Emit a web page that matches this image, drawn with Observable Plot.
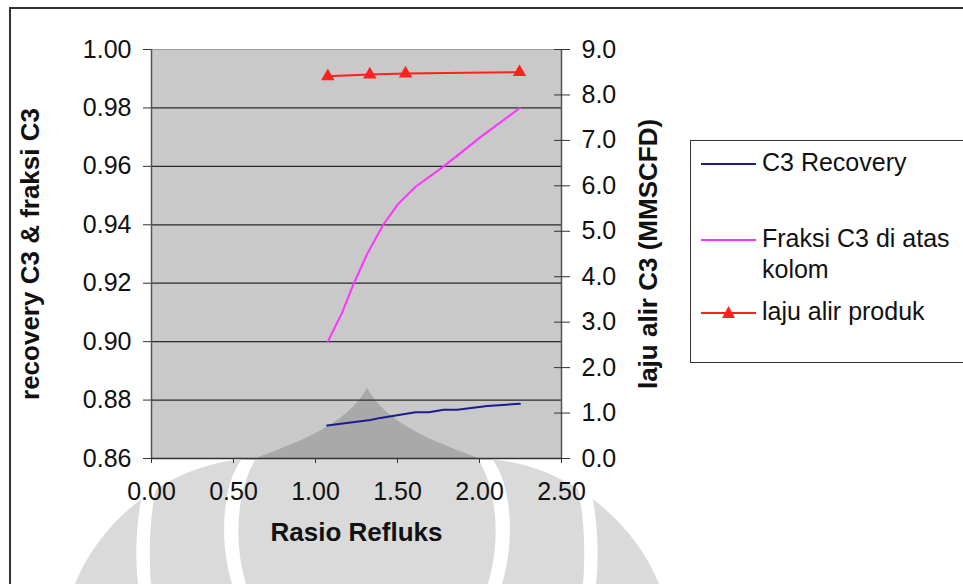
<!DOCTYPE html>
<html><head><meta charset="utf-8">
<script src="https://cdn.jsdelivr.net/npm/d3@7"></script>
<script src="https://cdn.jsdelivr.net/npm/@observablehq/plot@0.6"></script>
<style>
body{margin:0;background:#fff;}
#wrap{position:relative;width:963px;height:584px;overflow:hidden;font-family:Arial,"Liberation Sans",sans-serif;background:#fff;}
#frame{position:absolute;left:9px;top:7px;width:1000px;height:700px;border-left:2px solid #333;border-top:2px solid #333;pointer-events:none;}
#chart{position:absolute;left:0;top:0;}
#legend{position:absolute;left:690px;top:140px;width:400px;height:221px;border:1.5px solid #333;background:#fff;font-size:25px;color:#111;}
.item{position:absolute;left:10px;display:flex;align-items:flex-start;}
.item svg{flex:none;margin-top:7px;margin-right:6px;}
.item span{line-height:31px;}
</style>
</head><body>
<div id="wrap">
  <div id="chart"></div>
  <div id="frame"></div>
  <div id="legend"></div>
</div>
<script>
// ---- data ----
const rasioFraksi   = [1.075, 1.163, 1.234, 1.315, 1.413, 1.502, 1.610, 1.782, 2.006, 2.246];
const fraksiC3      = [0.900, 0.910, 0.920, 0.930, 0.940, 0.947, 0.953, 0.960, 0.970, 0.980];
const rasioRecovery = [1.071, 1.335, 1.396, 1.610, 1.691, 1.782, 1.864, 2.047, 2.246];
const recoveryC3    = [0.8713, 0.8732, 0.8739, 0.8758, 0.8758, 0.8767, 0.8767, 0.8780, 0.8787];
const rasioProduk   = [1.075, 1.331, 1.549, 2.244];
const lajuAlir      = [8.41, 8.45, 8.47, 8.50];
const xTicks     = [0, 0.5, 1.0, 1.5, 2.0, 2.5];
const leftTicks  = [0.86, 0.88, 0.90, 0.92, 0.94, 0.96, 0.98, 1.00];
const gridTicks  = [0.88, 0.90, 0.92, 0.94, 0.96, 0.98];
const rightTicks = [0, 1, 2, 3, 4, 5, 6, 7, 8, 9];
const seriesNames = ["C3 Recovery", "Fraksi C3 di atas kolom", "laju alir produk"];
const seriesColors = ["#1c1c8e", "#ff33ff", "#ff2020"];

// right axis (0..9) mapped onto left axis domain (0.86..1.00)
const L0 = 0.86, L1 = 1.00, R0 = 0, R1 = 9;
const toL = v => L0 + (v - R0) * (L1 - L0) / (R1 - R0);
const toR = y => R0 + (y - L0) * (R1 - R0) / (L1 - L0);

const fraksi = rasioFraksi.map((x, i) => ({x, y: fraksiC3[i]}));
const recov = rasioRecovery.map((x, i) => ({x, y: recoveryC3[i]}));
const produk = rasioProduk.map((x, i) => ({x, y: toL(lajuAlir[i])}));

const font = "Arial, 'Liberation Sans', sans-serif";
const chart = Plot.plot({
  width: 963, height: 584,
  marginLeft: 151, marginRight: 402, marginTop: 49, marginBottom: 126,
  style: {fontFamily: font, fontSize: "25px", background: "transparent", color: "#111"},
  x: {domain: [0, 2.5]},
  y: {domain: [L0, L1]},
  marks: [
    Plot.frame({fill: "#c9c9c9", stroke: "#9a9a9a"}),
    Plot.ruleY(gridTicks, {stroke: "#2a2a2a", strokeWidth: 1.3}),
    Plot.ruleX([0], {stroke: "#555", strokeWidth: 1.5}),
    Plot.ruleX([2.5], {stroke: "#555", strokeWidth: 1.5}),
    Plot.ruleY([L0], {stroke: "#333", strokeWidth: 1.5}),
    Plot.axisY(leftTicks, {anchor: "left", tickSize: 8, tickPadding: 12, tickFormat: d => d.toFixed(2), label: null, fontSize: 25, stroke: "#333"}),
    Plot.axisY(rightTicks.map(toL), {anchor: "right", tickSize: 16, dx: -8, tickFormat: () => "", label: null, stroke: "#333"}),
    Plot.axisY(rightTicks.map(toL), {anchor: "right", tickSize: 0, tickPadding: 20, tickFormat: d => toR(d).toFixed(1), label: null, fontSize: 25}),
    Plot.axisX(xTicks, {anchor: "bottom", tickSize: 5, tickPadding: 19, tickFormat: d => d.toFixed(2), label: null, fontSize: 25, stroke: "#333"}),
    Plot.line(recov, {x: "x", y: "y", stroke: seriesColors[0], strokeWidth: 2}),
    Plot.line(fraksi, {x: "x", y: "y", stroke: seriesColors[1], strokeWidth: 2}),
    Plot.line(produk, {x: "x", y: "y", stroke: seriesColors[2], strokeWidth: 2}),
    Plot.dot(produk, {x: "x", y: "y", symbol: "triangle", r: 5, fill: seriesColors[2], stroke: null}),
    Plot.text(["Rasio Refluks"], {frameAnchor: "bottom", dy: 82, fontWeight: "bold", fontSize: 26, fill: "#111"}),
    Plot.text(["recovery C3 & fraksi C3"], {frameAnchor: "left", textAnchor: "middle", dx: -121, rotate: -90, fontWeight: "bold", fontSize: 26, fill: "#111"}),
    Plot.text(["laju alir C3 (MMSCFD)"], {frameAnchor: "right", textAnchor: "middle", dx: 87, rotate: -90, fontWeight: "bold", fontSize: 26, fill: "#111"})
  ]
});
document.getElementById("chart").appendChild(chart);

// faint background watermark (decoration, not data), placed just above the plot-area fill
(function () {
  const ns = "http://www.w3.org/2000/svg";
  const frameG = chart.querySelector('[aria-label="frame"]');
  if (!frameG) return;
  const g = document.createElementNS(ns, "g");
  g.setAttribute("aria-label", "watermark");
  const mk = (d, fill) => { const p = document.createElementNS(ns, "path"); p.setAttribute("d", d); p.setAttribute("fill", fill); g.appendChild(p); };
  const mirror = d => d.replace(/(-?\d+(?:\.\d+)?),(-?\d+(?:\.\d+)?)/g, (m, x, y) => (734 - +x) + "," + y);
  mk("M75,584 C100,520 170,462 250,459 L484,459 C564,462 634,520 659,584 Z", "#dadada");
  const band1 = "M150,468 C137,500 134,550 138,584 L151,584 C148,550 150,500 162,466 Z";
  const band2 = "M241,460 C222,487 219,540 232,584 L246,584 C233,540 237,492 255,460 Z";
  [band1, band2].forEach(b => { mk(b, "#ffffff"); mk(mirror(b), "#ffffff"); });
  mk("M256,458 C300,441 346,425 367,388 C388,425 434,441 478,458 Z", "#a9a9a9");
  frameG.parentNode.insertBefore(g, frameG.nextSibling);
})();

// legend
const legend = document.getElementById("legend");
const rows = [
  {top: 6, lines: ["C3 Recovery"], marker: false},
  {top: 82, lines: ["Fraksi C3 di atas", "kolom"], marker: false},
  {top: 155, lines: ["laju alir produk"], marker: true}
];
rows.forEach((r, i) => {
  const div = document.createElement("div");
  div.className = "item";
  div.style.top = r.top + "px";
  const ns = "http://www.w3.org/2000/svg";
  const svg = document.createElementNS(ns, "svg");
  svg.setAttribute("width", 55); svg.setAttribute("height", 20);
  const ln = document.createElementNS(ns, "line");
  ln.setAttribute("x1", 0); ln.setAttribute("x2", 55); ln.setAttribute("y1", 10); ln.setAttribute("y2", 10);
  ln.setAttribute("stroke", seriesColors[i]); ln.setAttribute("stroke-width", 2);
  svg.appendChild(ln);
  if (r.marker) {
    const p = document.createElementNS(ns, "path");
    p.setAttribute("d", "M27.5,3 L34,15 L21,15 Z");
    p.setAttribute("fill", seriesColors[i]);
    svg.appendChild(p);
  }
  div.appendChild(svg);
  const span = document.createElement("span");
  span.innerHTML = r.lines.join("<br>");
  div.appendChild(span);
  legend.appendChild(div);
});
</script>
</body></html>
